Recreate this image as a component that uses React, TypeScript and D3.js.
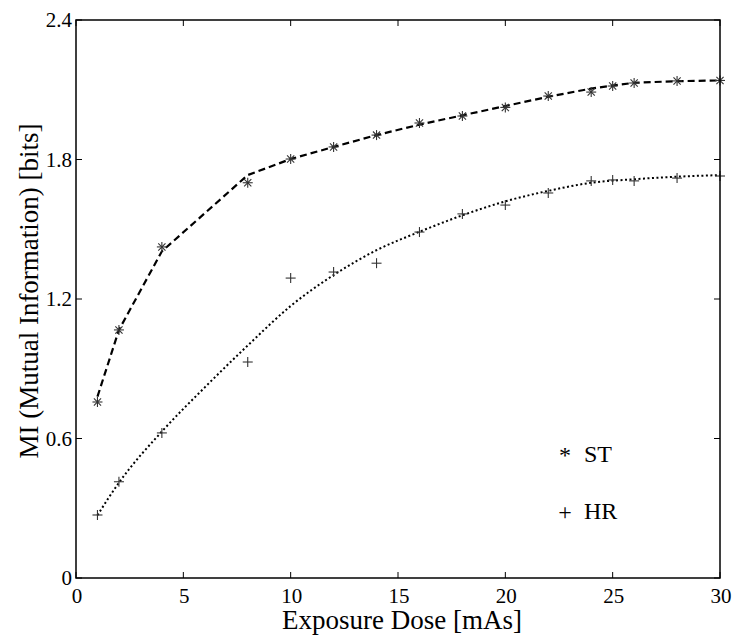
import React, { useEffect, useRef } from "react";
import * as d3 from "d3";

const doses = [1, 2, 4, 8, 10, 12, 14, 16, 18, 20, 22, 24, 25, 26, 28, 30];
const stPoints = [0.757, 1.067, 1.424, 1.70, 1.802, 1.854, 1.905, 1.957, 1.987, 2.024, 2.073, 2.09, 2.116, 2.129, 2.138, 2.14];
const stFit = [0.78, 1.067, 1.405, 1.733, 1.802, 1.854, 1.905, 1.95, 1.99, 2.03, 2.07, 2.105, 2.118, 2.13, 2.137, 2.14];
const hrPoints = [0.271, 0.414, 0.624, 0.929, 1.29, 1.316, 1.354, 1.488, 1.566, 1.604, 1.656, 1.708, 1.712, 1.708, 1.72, 1.729];
const fitDoses = [1, 2, 4, 6, 8, 10, 12, 14, 16, 18, 20, 22, 24, 26, 28, 30];
const hrFit = [0.27, 0.41, 0.63, 0.82, 1.0, 1.17, 1.303, 1.41, 1.489, 1.56, 1.62, 1.665, 1.70, 1.715, 1.726, 1.733];
const xTicks = [0, 5, 10, 15, 20, 25, 30];
const yTicks = [0, 0.6, 1.2, 1.8, 2.4];
const legendItems = [
  { symbol: "*", label: "ST" },
  { symbol: "+", label: "HR" },
];
const fontNames = ["Liberation Serif", "DejaVu Serif"];

const W = 734;
const H = 635;
const left = 76;
const right = 720;
const top = 20;
const bottom = 578;

export default function App() {
  const ref = useRef<SVGSVGElement>(null);
  const font = fontNames.map((f) => `"${f}"`).join(", ") + ", monospace";

  useEffect(() => {
    if (ref.current) {
      d3.select(ref.current).selectAll("text").style("font-family", font);
    }
  }, [font]);

  const x = d3.scaleLinear().domain([0, 30]).range([left, right]);
  const y = d3.scaleLinear().domain([0, 2.4]).range([bottom, top]);

  const stLine = d3
    .line<number>()
    .x((_, i) => x(doses[i]))
    .y((d) => y(d))
    .curve(d3.curveLinear)(stFit) as string;
  const hrLine = d3
    .line<number>()
    .x((_, i) => x(fitDoses[i]))
    .y((d) => y(d))
    .curve(d3.curveMonotoneX)(hrFit) as string;

  const tick = 6;
  const m = 5;
  const ts = (size: number) => ({ fontFamily: font, fontSize: size });

  return (
    <svg ref={ref} width={W} height={H} style={{ position: "absolute", left: 0, top: 0 }}>
      <rect x={0} y={0} width={W} height={H} fill="#fff" />
      <path d={stLine} fill="none" stroke="#000" strokeWidth={2.2} strokeDasharray="7 4" />
      <path d={hrLine} fill="none" stroke="#000" strokeWidth={2} strokeDasharray="2 2.5" />
      {stPoints.map((v, i) => {
        const cx = x(doses[i]);
        const cy = y(v);
        const d = m * 0.72;
        return (
          <g key={"st" + i} stroke="#333" strokeWidth={1.1}>
            <line x1={cx - m} y1={cy} x2={cx + m} y2={cy} />
            <line x1={cx} y1={cy - m} x2={cx} y2={cy + m} />
            <line x1={cx - d} y1={cy - d} x2={cx + d} y2={cy + d} />
            <line x1={cx - d} y1={cy + d} x2={cx + d} y2={cy - d} />
          </g>
        );
      })}
      {hrPoints.map((v, i) => {
        const cx = x(doses[i]);
        const cy = y(v);
        return (
          <g key={"hr" + i} stroke="#333" strokeWidth={1.1}>
            <line x1={cx - m} y1={cy} x2={cx + m} y2={cy} />
            <line x1={cx} y1={cy - m} x2={cx} y2={cy + m} />
          </g>
        );
      })}
      <rect x={left} y={top} width={right - left} height={bottom - top} fill="none" stroke="#000" strokeWidth={1.5} />
      {xTicks.map((t) => (
        <g key={"xt" + t}>
          <line x1={x(t)} y1={bottom} x2={x(t)} y2={bottom - tick} stroke="#000" strokeWidth={1} />
          <line x1={x(t)} y1={top} x2={x(t)} y2={top + tick} stroke="#000" strokeWidth={1} />
          <text x={x(t) + 1} y={603} textAnchor="middle" style={ts(21)}>
            {t}
          </text>
        </g>
      ))}
      {yTicks.map((t) => (
        <g key={"yt" + t}>
          <line x1={left} y1={y(t)} x2={left + tick} y2={y(t)} stroke="#000" strokeWidth={1} />
          <line x1={right} y1={y(t)} x2={right - tick} y2={y(t)} stroke="#000" strokeWidth={1} />
          <text x={72} y={y(t) + 7} textAnchor="end" style={ts(21)}>
            {t === 0 ? "0" : t.toFixed(1)}
          </text>
        </g>
      ))}
      <text x={402} y={629} textAnchor="middle" style={ts(27)}>
        Exposure Dose [mAs]
      </text>
      <text transform={`translate(38, 291) rotate(-90)`} textAnchor="middle" style={ts(27)}>
        MI (Mutual Information) [bits]
      </text>
      {legendItems.map((item, i) => (
        <g key={item.label}>
          <text x={565} y={463 + i * 57} textAnchor="middle" style={ts(24)}>
            {item.symbol}
          </text>
          <text x={584} y={462 + i * 57} style={ts(24)}>
            {item.label}
          </text>
        </g>
      ))}
    </svg>
  );
}
